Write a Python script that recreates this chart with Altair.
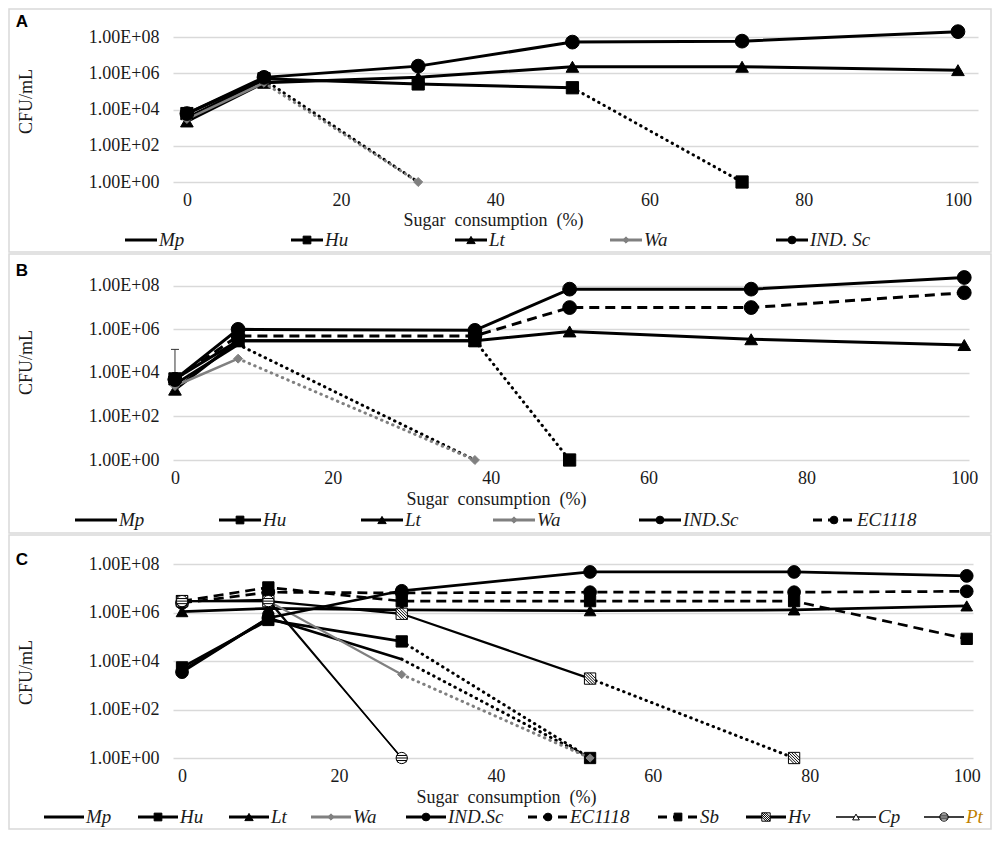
import altair as alt
import pandas as pd

# values: CFU/mL against sugar consumption (%)
PCT_A = [0, 10, 30, 50, 72, 100]
A_MP = [3.5e3, 4.5e5, 1]
A_HU = [6e3, 5e5, 2.6e5, 1.6e5, 1]
A_LT = [2.2e3, 3e5, 6e5, 2.3e6, 2.3e6, 1.5e6]
A_WA = [3e3, 3e5, 1]
A_SC = [6e3, 6e5, 2.5e6, 5.3e7, 6e7, 2e8]

PCT_B = [0, 8, 38, 50, 73, 100]
B_MP = [3e3, 2e5, 1]
B_HU = [5.3e3, 3e5, 3e5, 1]
B_LT = [1.7e3, 3e5, 3e5, 8e5, 3.5e5, 1.9e5]
B_WA = [2.5e3, 4.5e4, 1]
B_SC = [5e3, 1e6, 9e5, 7e7, 7e7, 2.4e8]
B_EC = [5e3, 5e5, 5e5, 1e7, 1e7, 4.8e7]
B_HU_ERR = [0, 5.3e3, 1.2e5]  # pct, mean, mean + sd

PCT_C = [0, 11, 28, 52, 78, 100]
C_MP = [4e3, 6e5, 1.2e4, 1]
C_HU = [5.5e3, 5e5, 6.5e4, 1]
C_LT = [1.1e6, 1.5e6, 1.3e6, 1.2e6, 1.3e6, 1.9e6]
C_WA = [3e6, 3e6, 2.8e3, 1]
C_SC = [3.5e3, 6e5, 8e6, 4.8e7, 4.8e7, 3.3e7]
C_EC = [2.5e6, 7e6, 6.5e6, 7e6, 7e6, 7.6e6]
C_SB = [3e6, 1.1e7, 3e6, 3e6, 3e6, 8.3e4]
C_HV = [3e6, 3e6, 9e5, 1.9e3, 1]
C_CP = [3e6, 3.5e6, 1]
C_PT = [3e6, 3e6, 1]

Y_TICKS = [1, 1e2, 1e4, 1e6, 1e8]
X_TICKS = [0, 20, 40, 60, 80, 100]
X_TITLE = "Sugar\u00a0 consumption\u00a0 (%)"

SERIF = "Liberation Serif"
SANS = "Liberation Sans"
TXT = "#1a1a1a"
GRID = "#d9d9d9"
BLACK = "#000000"
GREY = "#808080"
FS = 18     # axis text size
LFS = 19    # legend text size
LEFT = 172  # page x of every plot area's left edge

# marker paths: hatched square and striped circle
HATCH = ("M-1,-1H1V1H-1Z M-1,0L0,1 M-1,-1L1,1 M0,-1L1,0 "
         "M-1,-0.5L0.5,1 M-0.5,-1L1,0.5")
STRIPE = ("M-1,0A1,1,0,1,1,1,0A1,1,0,1,1,-1,0Z "
          "M-0.9,-0.45H0.9 M-1,0H1 M-0.9,0.45H0.9")

STYLE = {
    "Mp": dict(color=BLACK, width=3),
    "Hu": dict(color=BLACK, width=3, shape="square", fill=BLACK, size=150, lsize=60),
    "Lt": dict(color=BLACK, width=3, shape="triangle-up", fill=BLACK, size=160, lsize=70),
    "Wa": dict(color=GREY, width=2.5, shape="diamond", fill=GREY, size=80, lsize=40),
    "IND.Sc": dict(color=BLACK, width=3, shape="circle", fill=BLACK, size=190, lsize=60),
    "EC1118": dict(color=BLACK, width=3, dash=[10, 6], shape="circle", fill=BLACK, size=190, lsize=60),
    "Sb": dict(color=BLACK, width=3, dash=[10, 6], shape="square", fill=BLACK, size=150, lsize=60),
    "Hv": dict(color=BLACK, width=2.5, shape=HATCH, fill="white", size=150, lsize=70),
    "Cp": dict(color=BLACK, width=1.5, shape="triangle-up", fill="white", size=100, lsize=45, tail="solid"),
    "Pt": dict(color=BLACK, width=1.5, shape=STRIPE, fill="white", size=150, lsize=70, tail="solid",
               text="#bf7f00"),
}

GEO = {
    "A": dict(w=805, h=163, dom=[-1.8, 102.6], box=(-10, 233), leg_y=221, tx=320, ty=38, yty=82,
              letter_y=3, k=1.0, leg_len=32, leg_x=[124, 290, 454, 609, 775]),
    "B": dict(w=796, h=196, dom=[-0.25, 100.6], box=(-10, 269), leg_y=256, tx=323, ty=39, yty=98,
              letter_y=7, k=1.0, leg_len=42, leg_x=[74, 218, 360, 492, 638, 812]),
    "C": dict(w=800, h=218, dom=[-1.15, 100.8], box=(-5, 289), leg_y=277, tx=333, ty=39, yty=132,
              letter_y=20, k=0.85, leg_len=40,
              leg_x=[43, 137, 228, 310, 405, 527, 657, 745, 835, 923]),
}

ONE = pd.DataFrame({"k": [0]})


def panel(letter, pct, rows, err=None):
    g = GEO[letter]
    k = g["k"]
    xs = alt.Scale(domain=g["dom"], nice=False, zero=False)
    ys = alt.Scale(type="log", domain=[1, 1e9], nice=False)
    px = g["w"] / (g["dom"][1] - g["dom"][0])

    def to_x(page_x):
        return g["dom"][0] + (page_x - LEFT) / px

    # every layer carries the same axis definition so that they merge into one
    x_axis = alt.Axis(values=X_TICKS, grid=False, domain=False, ticks=False,
                      labelFont=SERIF, labelFontSize=FS, labelColor=TXT, labelPadding=9,
                      title=X_TITLE, titleFont=SERIF, titleFontSize=FS,
                      titleFontWeight="normal", titleColor=TXT, titleX=g["tx"], titleY=g["ty"],
                      titleAlign="center", titleBaseline="middle")
    y_axis = alt.Axis(values=Y_TICKS, labelExpr="'1.00E+0' + format(log(datum.value) / LN10, '.0f')",
                      grid=True, gridColor=GRID, gridWidth=1.5, domain=False, ticks=False,
                      labelFont=SERIF, labelFontSize=FS, labelColor=TXT, labelPadding=14,
                      title="CFU/mL", titleFont=SERIF, titleFontSize=FS, titleFontWeight="normal",
                      titleColor=TXT, titleX=-147, titleY=g["yty"], titleAngle=270,
                      titleAlign="center", titleBaseline="middle")

    def X(field="pct"):
        return alt.X(f"{field}:Q", scale=xs, axis=x_axis)

    def Y(field="cfu"):
        return alt.Y(f"{field}:Q", scale=ys, axis=y_axis)

    layers = [
        alt.Chart(ONE).mark_rect(fillOpacity=0, stroke=GRID, strokeWidth=1.5).encode(
            x=alt.value(8 - LEFT), x2=alt.value(990 - LEFT),
            y=alt.value(g["box"][0]), y2=alt.value(g["box"][1])),
        alt.Chart(pd.DataFrame({"t": [letter]})).mark_text(
            font=SANS, fontWeight="bold", fontSize=17, color=BLACK, align="center",
            baseline="middle").encode(text="t:N", x=alt.value(21 - LEFT), y=alt.value(g["letter_y"])),
    ]

    for i, (name, label, vals) in enumerate(rows):
        st = STYLE[name]
        d = pd.DataFrame({"pct": pct[:len(vals)], "cfu": vals})
        dotted = vals[-1] == 1 and st.get("tail", "dotted") == "dotted"
        body = d.iloc[:-1] if dotted else d
        line_kw = dict(color=st["color"], strokeWidth=st["width"] * (0.9 if k < 1 else 1))
        if "dash" in st:
            line_kw["strokeDash"] = st["dash"]
        layers.append(alt.Chart(body).mark_line(**line_kw).encode(x=X(), y=Y()))
        if dotted:
            layers.append(alt.Chart(d.iloc[-2:]).mark_line(
                color=st["color"], strokeWidth=3, strokeDash=[0.5, 5.5], strokeCap="round"
            ).encode(x=X(), y=Y()))
        if err is not None and name == "Hu":
            e = pd.DataFrame({"pct": [err[0]], "cfu": [err[1]], "hi": [err[2]]})
            layers.append(alt.Chart(e).mark_rule(color="#333333", strokeWidth=1).encode(
                x=X(), y=Y(), y2="hi:Q"))
            layers.append(alt.Chart(e).mark_point(shape="stroke", size=64, stroke="#333333",
                                                  strokeWidth=1, opacity=1).encode(
                x=X(), y=Y("hi")))
        if "shape" in st:
            layers.append(alt.Chart(d).mark_point(
                shape=st["shape"], filled=True, fill=st["fill"], stroke=st["color"],
                strokeWidth=1, size=st["size"] * k, opacity=1).encode(x=X(), y=Y()))

        # legend entry
        x0 = g["leg_x"][i]
        x1 = x0 + g["leg_len"]
        leg = pd.DataFrame({"pct": [to_x(x0)], "pct2": [to_x(x1)], "mid": [to_x((x0 + x1) / 2)],
                            "tx": [to_x(x1 + 2)], "label": [label]})
        rule_kw = dict(color=st["color"], strokeWidth=3 if st["width"] > 2 else 1.5)
        if "dash" in st:
            rule_kw["strokeDash"] = [9, 6]
        layers.append(alt.Chart(leg).mark_rule(**rule_kw).encode(
            x=X(), x2="pct2:Q", y=alt.value(g["leg_y"])))
        if "shape" in st:
            layers.append(alt.Chart(leg).mark_point(
                shape=st["shape"], filled=True, fill=st["fill"], stroke=st["color"],
                strokeWidth=1, size=st["lsize"], opacity=1).encode(
                x=X("mid"), y=alt.value(g["leg_y"])))
        layers.append(alt.Chart(leg).mark_text(
            font=SERIF, fontStyle="italic", fontSize=LFS, align="left", baseline="middle",
            color=st.get("text", TXT)).encode(
            x=X("tx"), y=alt.value(g["leg_y"]), text="label:N"))

    return alt.layer(*layers).properties(width=g["w"], height=g["h"])


panel_a = panel("A", PCT_A, [
    ("Mp", "Mp", A_MP), ("Hu", "Hu", A_HU), ("Lt", "Lt", A_LT),
    ("Wa", "Wa", A_WA), ("IND.Sc", "IND. Sc", A_SC),
])
panel_b = panel("B", PCT_B, [
    ("Mp", "Mp", B_MP), ("Hu", "Hu", B_HU), ("Lt", "Lt", B_LT),
    ("Wa", "Wa", B_WA), ("IND.Sc", "IND.Sc", B_SC), ("EC1118", "EC1118", B_EC),
], err=B_HU_ERR)
panel_c = panel("C", PCT_C, [
    ("Mp", "Mp", C_MP), ("Hu", "Hu", C_HU), ("Lt", "Lt", C_LT), ("Wa", "Wa", C_WA),
    ("IND.Sc", "IND.Sc", C_SC), ("EC1118", "EC1118", C_EC), ("Sb", "Sb", C_SB),
    ("Hv", "Hv", C_HV), ("Cp", "Cp", C_CP), ("Pt", "Pt", C_PT),
])

chart = alt.vconcat(panel_a, panel_b, panel_c, spacing=0).properties(
    padding=0, background="white"
).configure_view(strokeWidth=0)

chart.save("out.html", embed_options={"renderer": "svg", "actions": False})
